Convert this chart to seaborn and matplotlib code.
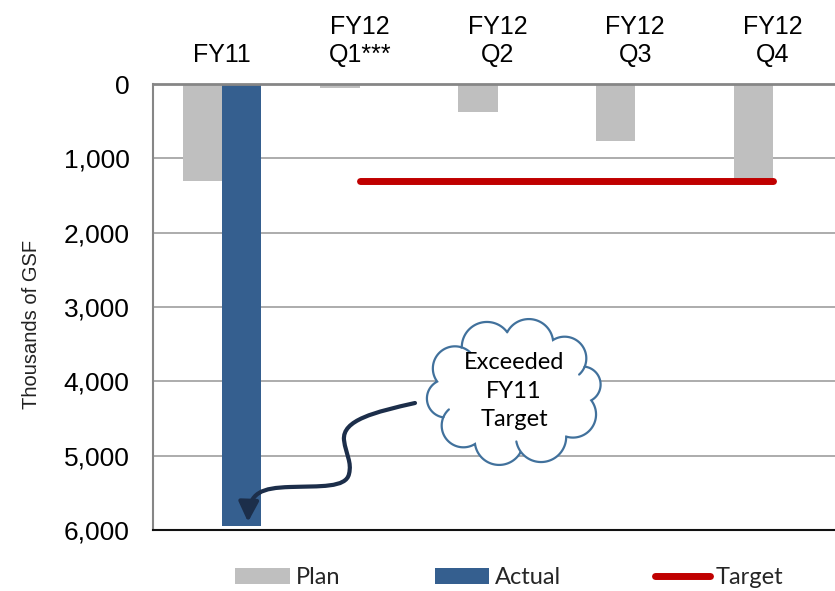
import numpy as np
import pandas as pd
import seaborn as sns
import matplotlib
matplotlib.use("Agg")
import matplotlib.pyplot as plt
from matplotlib.path import Path
from matplotlib.patches import PathPatch, FancyArrowPatch, Patch
from matplotlib.lines import Line2D
from matplotlib.ticker import FuncFormatter

# ---------------- data ----------------
categories = ["FY11", "FY12\nQ1***", "FY12\nQ2", "FY12\nQ3", "FY12\nQ4"]
plan = [1300, 60, 380, 770, 1280]
actual = [5950, np.nan, np.nan, np.nan, np.nan]
target = [np.nan, 1300, 1300, 1300, 1300]
y_ticks = [0, 1000, 2000, 3000, 4000, 5000, 6000]
series_names = ["Plan", "Actual", "Target"]
y_label = "Thousands of GSF"
callout_text = "Exceeded\nFY11\nTarget"

# ---------------- style ----------------
PLAN_C = "#BFBFBF"
ACTUAL_C = "#355F8F"
TARGET_C = "#C00000"
W, H = 835, 591

sns.set_theme(style="white")
plt.rcParams["font.family"] = ["Liberation Sans", "DejaVu Sans"]

rows = []
for c, p, a in zip(categories, plan, actual):
    rows.append({"category": c, "series": "Plan", "value": p})
    if not np.isnan(a):
        rows.append({"category": c, "series": "Actual", "value": a})
df = pd.DataFrame(rows)

fig = plt.figure(figsize=(W / 100, H / 100), dpi=100)
ax = fig.add_axes([153 / W, (H - 530) / H, (842 - 153) / W, (530 - 84) / H])

sns.barplot(data=df, x="category", y="value", hue="series",
            order=categories, hue_order=["Plan", "Actual"],
            palette={"Plan": PLAN_C, "Actual": ACTUAL_C},
            width=0.57, gap=0, dodge=True, saturation=1,
            edgecolor="none", linewidth=0, legend=False, ax=ax)

tx = [i for i, v in enumerate(target) if not np.isnan(v)]
ty = [v for v in target if not np.isnan(v)]
sns.lineplot(x=tx, y=ty, ax=ax, color=TARGET_C, linewidth=5,
             solid_capstyle="round", legend=False, zorder=4)

ax.set_xlim(-0.5, len(categories) - 0.5)
ax.set_ylim(6000, 0)
ax.set_yticks(y_ticks)
ax.yaxis.set_major_formatter(FuncFormatter(lambda v, p: f"{int(v):,}"))
ax.xaxis.tick_top()
ax.set_xticks(range(len(categories)))
ax.set_xticklabels(categories, fontsize=18, color="black", linespacing=1.25)
ax.tick_params(axis="x", length=0, pad=12)
ax.tick_params(axis="y", length=0, pad=17, labelsize=19, labelcolor="black")
ax.set_xlabel("")
ax.set_ylabel(y_label, fontsize=14.5, color="#222222")
ax.yaxis.set_label_coords(-0.163, 0.46)

ax.yaxis.grid(True, color="#A6A6A6", linewidth=1.3)
ax.set_axisbelow(True)
ax.spines["right"].set_visible(False)
ax.spines["top"].set_color("#868686")
ax.spines["top"].set_linewidth(2)
ax.spines["left"].set_color("#868686")
ax.spines["left"].set_linewidth(1.5)
ax.spines["bottom"].set_color("#111111")
ax.spines["bottom"].set_linewidth(1.5)

# ---------------- overlay for callout ----------------
oax = fig.add_axes([0, 0, 1, 1], facecolor="none")
oax.set_xlim(0, W)
oax.set_ylim(H, 0)
oax.axis("off")


def cloud_path(cx, cy, a, b, angles_deg, k=0.2, inner=()):
    t = np.radians(angles_deg)
    pts = np.column_stack([cx + a * np.cos(t), cy + b * np.sin(t)])
    C = np.array([cx, cy])
    verts = []
    extras = []
    n = len(pts)
    for i in range(n):
        p0, p1 = pts[i], pts[(i + 1) % n]
        m = (p0 + p1) / 2
        ch = p1 - p0
        h = np.linalg.norm(ch) / 2
        perp = np.array([ch[1], -ch[0]]) / (2 * h)
        if np.dot(perp, m - C) < 0:
            perp = -perp
        c = m - perp * h * k
        R = np.hypot(h, h * k)
        a0 = np.arctan2(*(p0 - c)[::-1])
        a1 = np.arctan2(*(p1 - c)[::-1])
        am = np.arctan2(perp[1], perp[0])
        d = (a1 - a0) % (2 * np.pi)
        if not ((am - a0) % (2 * np.pi) < d):
            d = d - 2 * np.pi
        ts = a0 + d * np.linspace(0, 1, 40)
        verts.extend(np.column_stack([c[0] + R * np.cos(ts), c[1] + R * np.sin(ts)]))
        if i in inner:
            s = np.sign(d)
            te = a1 + s * np.linspace(0, 0.45, 12)
            extras.append(np.column_stack([c[0] + R * np.cos(te), c[1] + R * np.sin(te)]))
    verts.append(verts[0])
    codes = [Path.MOVETO] + [Path.LINETO] * (len(verts) - 2) + [Path.CLOSEPOLY]
    return Path(verts, codes), extras


cloud, inner_arcs = cloud_path(514, 392, 78, 60,
                               [8, 48, 85, 120, 155, 190, 228, 265, 300, 335],
                               k=0.32, inner=(1, 3, 5, 8))
oax.add_patch(PathPatch(cloud, facecolor="white", edgecolor="#41719C",
                        linewidth=1.6, zorder=3))
for seg in inner_arcs:
    oax.plot(seg[:, 0], seg[:, 1], color="#41719C", linewidth=1.6, zorder=3.5,
             solid_capstyle="round")
oax.text(514, 391, callout_text, ha="center", va="center", fontsize=17,
         family=["Lato", "DejaVu Sans"], linespacing=1.45, color="black", zorder=4)

arrow_verts = [(415, 403), (375, 412), (342, 420), (344, 440),
               (346, 455), (352, 462), (349, 474),
               (346, 488), (320, 486), (290, 487),
               (262, 488), (249, 492), (248, 522)]
arrow_codes = [Path.MOVETO] + [Path.CURVE4] * 12
arrow = FancyArrowPatch(path=Path(arrow_verts, arrow_codes),
                        arrowstyle="-|>,head_length=1.2,head_width=0.6",
                        mutation_scale=10, color="#1C2E4A", linewidth=3,
                        transform=oax.transData, zorder=5)
oax.add_patch(arrow)

# ---------------- legend ----------------
handles = [Patch(facecolor=PLAN_C, edgecolor="none"),
           Patch(facecolor=ACTUAL_C, edgecolor="none"),
           Line2D([], [], color=TARGET_C, linewidth=5, solid_capstyle="round")]
fig.legend(handles, series_names, loc="center", bbox_to_anchor=(0.61, 0.022),
           ncol=3, frameon=False, prop={"family": "Lato", "size": 17},
           handlelength=2.3, handletextpad=0.25, columnspacing=4.0,
           borderaxespad=0)

fig.savefig("out.png", dpi=100)
